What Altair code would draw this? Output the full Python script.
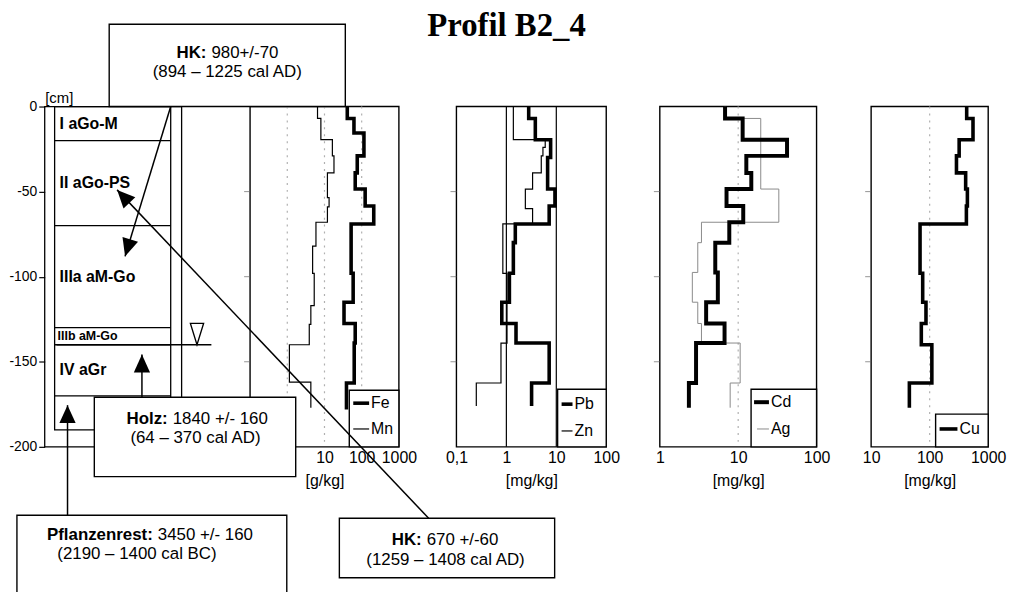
import math
import altair as alt
import pandas as pd

# ---------------- data ----------------
DEPTH_TICKS = [0, -50, -100, -150, -200]
HORIZON_NAMES = ["I aGo-M", "II aGo-PS", "IIIa aM-Go", "IIIb aM-Go", "IV aGr"]
HORIZON_TOP = [0, -20, -70, -130, -140]
HORIZON_BOTTOM = [-20, -70, -130, -140, -170]
COLUMN_BOTTOM = -190
GROUNDWATER = -140

FE_TOP = [0, -7, -15.5, -29, -39, -48.5, -58.5, -69, -98, -115, -127.5, -139, -162.5]
FE = [41, 62, 115, 76, 67, 124, 211, 52, 59, 33.5, 67, 63, 39]
FE_END = -178
MN_TOP = [0, -7, -19.5, -29, -39, -53.5, -59, -68, -82, -98, -117, -128, -140, -162]
MN = [6.5, 8.0, 16.3, 18, 12, 13.3, 12, 5.9, 4.8, 5.3, 4.3, 3.9, 1.14, 4.3]
MN_END = -177
PB_TOP = [0, -7, -19.5, -30, -48.5, -58.5, -69, -80, -98, -115, -127.5, -139, -162.5]
PB = [2.8, 3.8, 7.7, 6.7, 9.4, 7.2, 1.51, 1.38, 1.15, 0.81, 1.56, 7.2, 3.2]
PB_END = -176
ZN_TOP = [0, -19.5, -24, -29, -39, -48.5, -60, -69, -98, -139, -162.5]
ZN = [1.38, 6.0, 5.4, 5.0, 3.35, 2.4, 3.35, 0.85, 1.03, 0.78, 0.25]
ZN_END = -176
CD_TOP = [0, -7, -19.5, -29, -39, -48.5, -58.5, -68, -80, -97.5, -115, -127.5, -139, -162.5]
CD = [6.8, 11.4, 42, 12.7, 14.7, 7.1, 11.6, 7.7, 5.1, 5.5, 3.9, 6.7, 2.9, 2.35]
CD_END = -177
AG_TOP = [0, -7, -48.5, -68, -80, -97.5, -115, -127.5, -139, -162.5]
AG = [6.8, 19.4, 33, 3.4, 3.05, 2.6, 3.05, 3.4, 10.6, 7.9]
AG_END = -177
CU_TOP = [0, -7, -19.5, -29, -39, -48.5, -58.5, -69, -98, -115, -127.5, -140, -162.5]
CU = [429, 550, 319, 287, 412, 441, 424, 68.5, 76, 86.5, 72, 109, 45]
CU_END = -177

DATE_LABEL = ["HK:", "Holz:", "Pflanzenrest:", "HK:"]
DATE_VALUE = ["980+/-70", "1840 +/- 160", "3450 +/- 160", "670 +/-60"]
DATE_RANGE = ["(894 – 1225 cal AD)", "(64 – 370 cal AD)", "(2190 – 1400 cal BC)", "(1259 – 1408 cal AD)"]
TITLE = "Profil B2_4"

# ---------------- layout / styles (page pixels) ----------------
LEFT, TOP = 45, 8
W, H = 1021 - LEFT, 448 - TOP
PAD = {"left": LEFT - 8, "top": 0, "right": 0, "bottom": 592 - 8 - H}
FONT = "Liberation Sans"
BOX_X = [110, 95, 17, 342]
BOX_X2 = [348, 298, 289, 559]
BOX_Y = [22, 398, 517, 520]
BOX_Y2 = [105, 478, 600, 580]
SPLIT_X = [208, 169, 154, 425]
LINE1_Y = [51, 420, 537, 542]
LINE2_X = [229, 197, 138, 449]
LINE2_Y = [70, 439, 556, 562]
ARROW_FROM = [(172, 105), (432, 520), (143, 398), (68, 517)]
ARROW_TO = [(126, 256), (118, 189), (143, 355), (68, 406)]

STYLE = {
    "Fe": (3.6, "black"), "Mn": (1.2, "black"),
    "Pb": (3.6, "black"), "Zn": (1.2, "black"),
    "Cd": (4.0, "black"), "Ag": (1.0, "#8a8a8a"),
    "Cu": (3.6, "black"),
}
LEG_BOX = [(352, 402, 391, 448), (562, 611, 390, 448), (757, 823, 390, 448), (943, 996, 415, 448)]
LEG_ITEMS = [("Fe", 356, 372, 404, 374), ("Mn", 356, 372, 430, 374),
             ("Pb", 566, 577, 405, 579), ("Zn", 566, 577, 432, 579),
             ("Cd", 760, 775, 403, 777), ("Ag", 763, 775, 430, 777),
             ("Cu", 947, 965, 430, 967)]


def px_scale():
    return alt.Scale(domain=[LEFT, LEFT + W], range=[0, W], nice=False, zero=False)


def py_scale():
    return alt.Scale(domain=[TOP, TOP + H], range=[0, H], nice=False, zero=False)


def depth_scale():
    return alt.Scale(domain=[min(DEPTH_TICKS), max(DEPTH_TICKS)], range=[448 - TOP, 105 - TOP],
                     nice=False, zero=False)


def page_range(x0, x1):
    return [x0 - LEFT, x1 - LEFT]


def XP(v):
    return alt.XDatum(v, scale=px_scale(), axis=None, type="quantitative")


def YD(v):
    return alt.YDatum(v, scale=depth_scale(), axis=None, type="quantitative")


one = pd.DataFrame({"k": [0]})
units = []

# ---------------- profile column ----------------
hz = pd.DataFrame({"name": HORIZON_NAMES, "top": HORIZON_TOP, "bottom": HORIZON_BOTTOM})
y_axis = alt.Axis(orient="left", values=DEPTH_TICKS, format="d", zindex=0,
                  tickSize=6, tickColor="black", tickWidth=1.2, domain=False, grid=False,
                  labelFont=FONT, labelFontSize=14, labelColor="black", labelPadding=2,
                  title="[cm]", titleAngle=0, titleAlign="left", titleBaseline="middle",
                  titleX=0, titleY=96 - TOP, titleFont=FONT, titleFontSize=15,
                  titleFontWeight="normal", titleColor="black")

units.append(alt.Chart(hz).mark_rule(color="black", strokeWidth=1.3).encode(
    x=XP(55), x2=alt.X2Datum(172),
    y=alt.Y("bottom:Q", scale=depth_scale(), axis=y_axis)))
units.append(alt.Chart(one).mark_rect(fillOpacity=0, stroke="black", strokeWidth=1.3).encode(
    x=XP(45), x2=alt.X2Datum(183), y=YD(max(DEPTH_TICKS)), y2=alt.Y2Datum(min(DEPTH_TICKS))))
units.append(alt.Chart(one).mark_rect(fillOpacity=0, stroke="black", strokeWidth=1.3).encode(
    x=XP(55), x2=alt.X2Datum(172), y=YD(0), y2=alt.Y2Datum(COLUMN_BOTTOM)))
units.append(alt.Chart(hz).transform_filter("datum.name != 'IIIb aM-Go'").transform_calculate(
    mid="(datum.top + datum.bottom) / 2").mark_text(
    align="left", baseline="middle", font=FONT, fontSize=16, fontWeight="bold", color="black").encode(
    x=XP(60), y=alt.Y("mid:Q", scale=depth_scale(), axis=None), text="name:N"))
units.append(alt.Chart(hz).transform_filter("datum.name == 'IIIb aM-Go'").transform_calculate(
    mid="(datum.top + datum.bottom) / 2").mark_text(
    align="left", baseline="middle", font=FONT, fontSize=12.5, fontWeight="bold", color="black").encode(
    x=XP(58), y=alt.Y("mid:Q", scale=depth_scale(), axis=None), text="name:N"))
units.append(alt.Chart(one).mark_rule(color="black", strokeWidth=1.3).encode(
    x=XP(57), x2=alt.X2Datum(213), y=YD(GROUNDWATER)))
units.append(alt.Chart(one).mark_point(shape="M-0.62,-2L0.62,-2L0,0Z", size=467, filled=True,
                                       fill="white", stroke="black", strokeWidth=1.3, opacity=1).encode(
    x=XP(198.5), y=YD(GROUNDWATER)))


# ---------------- element panels ----------------
def panel(series, domain, rng, grid, grid_solid, tick_vals, unit):
    def xs():
        return alt.Scale(type="log", domain=domain, range=rng, nice=False)
    axis = alt.Axis(orient="bottom", values=tick_vals, format="~g", zindex=0,
                    ticks=False, domain=False, grid=False, labelFont=FONT, labelFontSize=16,
                    labelColor="black", labelPadding=3, labelFlush=False, labelOverlap=False,
                    title=unit, titleFont=FONT, titleFontSize=16, titleFontWeight="normal",
                    titleColor="black", titlePadding=7)
    out = []
    frame_df = pd.DataFrame({"lo": [domain[0]], "hi": [domain[1]],
                             "top": [max(DEPTH_TICKS)], "bottom": [min(DEPTH_TICKS)]})
    out.append(alt.Chart(frame_df).mark_rect(fillOpacity=0, stroke="black", strokeWidth=1.4).encode(
        x=alt.X("lo:Q", scale=xs(), axis=axis), x2="hi:Q",
        y=alt.Y("top:Q", scale=depth_scale(), axis=None), y2="bottom:Q"))
    gdf = pd.DataFrame({"g": grid, "top": max(DEPTH_TICKS), "bottom": min(DEPTH_TICKS)})
    if grid_solid:
        gmark = alt.Chart(gdf).mark_rule(color="black", strokeWidth=1.2)
    else:
        gmark = alt.Chart(gdf).mark_rule(color="#b0b0b0", strokeWidth=1.2, strokeDash=[2, 5])
    out.append(gmark.encode(x=alt.X("g:Q", scale=xs(), axis=None),
                            y=alt.Y("top:Q", scale=depth_scale(), axis=None), y2="bottom:Q"))
    tdf = pd.DataFrame({"d": DEPTH_TICKS[1:-1], "lo": domain[0]})
    out.append(alt.Chart(tdf).mark_tick(orient="horizontal", size=6, thickness=1, color="#666",
                                        xOffset=-3).encode(
        x=alt.X("lo:Q", scale=xs(), axis=None), y=alt.Y("d:Q", scale=depth_scale(), axis=None)))
    for name, tops, vals, end in series:
        w, c = STYLE[name]
        df = pd.DataFrame({"depth": list(tops) + [end], "value": list(vals) + [vals[-1]]})
        out.append(alt.Chart(df).mark_line(interpolate="step-before", strokeWidth=w, color=c,
                                           strokeJoin="miter", strokeCap="butt").encode(
            x=alt.X("value:Q", scale=xs(), axis=None),
            y=alt.Y("depth:Q", scale=depth_scale(), axis=None),
            order=alt.Order("depth:Q", sort="descending")))
    return out


units += panel([("Mn", MN_TOP, MN, MN_END), ("Fe", FE_TOP, FE, FE_END)],
               [0.1, 1000], page_range(252, 402), [1, 10, 100], False, [0.1, 1, 10, 100, 1000], "[g/kg]")
units += panel([("Zn", ZN_TOP, ZN, ZN_END), ("Pb", PB_TOP, PB, PB_END)],
               [0.1, 100], page_range(460, 611), [1, 10], True, [0.1, 1, 10, 100], "[mg/kg]")
units += panel([("Ag", AG_TOP, AG, AG_END), ("Cd", CD_TOP, CD, CD_END)],
               [1, 100], page_range(665, 823), [10], False, [1, 10, 100], "[mg/kg]")
units += panel([("Cu", CU_TOP, CU, CU_END)],
               [10, 1000], page_range(878, 996), [100], False, [10, 100, 1000], "[mg/kg]")


# ---------------- annotations (page pixel frame) ----------------
def pxy(xf, yf):
    return dict(x=alt.X(xf, type="quantitative", scale=px_scale(), axis=None),
                y=alt.Y(yf, type="quantitative", scale=py_scale(), axis=None))


leg_box_df = pd.DataFrame({"x": [b[0] for b in LEG_BOX], "x2": [b[1] for b in LEG_BOX],
                           "y": [b[2] for b in LEG_BOX], "y2": [b[3] for b in LEG_BOX]})
units.append(alt.Chart(leg_box_df).mark_rect(fill="white", stroke="black", strokeWidth=1.4).encode(
    **pxy("x", "y"), x2="x2:Q", y2="y2:Q"))
leg_df = pd.DataFrame({"name": [i[0] for i in LEG_ITEMS], "x": [i[1] for i in LEG_ITEMS],
                       "x2": [i[2] for i in LEG_ITEMS], "y": [i[3] for i in LEG_ITEMS],
                       "tx": [i[4] for i in LEG_ITEMS]})
for name in leg_df["name"]:
    w, c = STYLE[name]
    units.append(alt.Chart(leg_df).transform_filter(alt.datum.name == name).mark_rule(
        strokeWidth=w, color=c).encode(**pxy("x", "y"), x2="x2:Q"))
units.append(alt.Chart(leg_df).mark_text(align="left", baseline="middle", font=FONT, fontSize=16,
                                         color="black").encode(**pxy("tx", "y"), text="name:N"))

box_df = pd.DataFrame({"x": BOX_X, "x2": BOX_X2, "y": BOX_Y, "y2": BOX_Y2})
units.append(alt.Chart(box_df).mark_rect(fill="white", stroke="black", strokeWidth=1.4).encode(
    **pxy("x", "y"), x2="x2:Q", y2="y2:Q"))

arr_df = pd.DataFrame({
    "x": [a[0] for a in ARROW_FROM], "y": [a[1] for a in ARROW_FROM],
    "tx": [b[0] for b in ARROW_TO], "ty": [b[1] for b in ARROW_TO],
    "angle": [math.degrees(math.atan2(b[0] - a[0], -(b[1] - a[1]))) % 360
              for a, b in zip(ARROW_FROM, ARROW_TO)],
})
units.append(alt.Chart(arr_df).mark_rule(color="black", strokeWidth=1.5).encode(
    **pxy("x", "y"), x2="tx:Q", y2="ty:Q"))
units.append(alt.Chart(arr_df).mark_point(shape="M0,0L0.5,1.1L-0.5,1.1Z", size=1070, filled=True,
                                          color="black", opacity=1).encode(
    **pxy("tx", "ty"), angle=alt.Angle("angle:Q", scale=None)))

txt_df = pd.DataFrame({"lab": DATE_LABEL, "val": DATE_VALUE, "rng": DATE_RANGE,
                       "sx": SPLIT_X, "vx": [s + 5 for s in SPLIT_X], "y1": LINE1_Y,
                       "x2p": LINE2_X, "y2p": LINE2_Y})
units.append(alt.Chart(txt_df).mark_text(align="right", baseline="middle", font=FONT, fontSize=17,
                                         fontWeight="bold", color="black").encode(
    **pxy("sx", "y1"), text="lab:N"))
units.append(alt.Chart(txt_df).mark_text(align="left", baseline="middle", font=FONT, fontSize=17,
                                         color="black").encode(**pxy("vx", "y1"), text="val:N"))
units.append(alt.Chart(txt_df).mark_text(align="center", baseline="middle", font=FONT, fontSize=17,
                                         color="black").encode(**pxy("x2p", "y2p"), text="rng:N"))
title_df = pd.DataFrame({"t": [TITLE], "x": [510.5], "y": [34]})
units.append(alt.Chart(title_df).mark_text(align="center", baseline="alphabetic", font="Liberation Serif",
                                           fontSize=33, fontWeight="bold", color="black").encode(
    **pxy("x", "y"), text="t:N"))

chart = alt.layer(*units).resolve_scale(x="independent", y="independent").properties(
    width=W, height=H, padding=PAD, autosize=alt.AutoSizeParams(type="none"),
    background="white").configure(
    locale={"number": {"decimal": ",", "thousands": ".", "grouping": [3],
                       "currency": ["", " €"], "minus": "-"}}).configure_view(stroke=None)

chart.save("out.html", embed_options={"renderer": "svg", "actions": False})
